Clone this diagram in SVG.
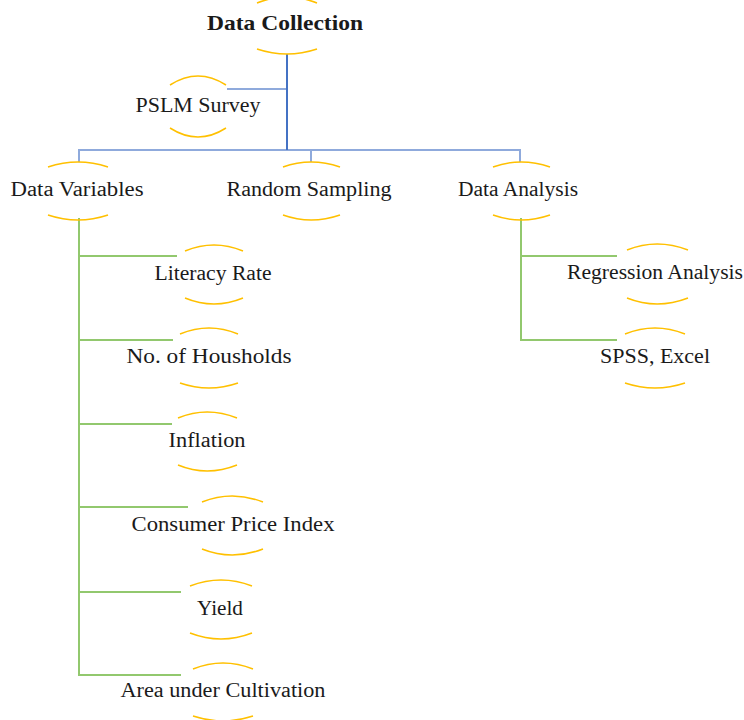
<svg xmlns="http://www.w3.org/2000/svg" width="744" height="720" viewBox="0 0 744 720">
<style>
.t{font-family:"Liberation Serif","Times New Roman",serif;font-size:20px;fill:#1a1a1a;text-anchor:middle}
.b{font-weight:bold;font-size:21px}
.arc{fill:none;stroke:#FFC000;stroke-width:1.5}
.cb{fill:none;stroke:#4472C4;stroke-width:2}
.cl{fill:none;stroke:#8FAADC;stroke-width:2}
.cg{fill:none;stroke:#92C86E;stroke-width:2}
</style>
<rect width="744" height="720" fill="#fff"/>
<g id="connectors">
<path class="cl" d="M79 162V150H520V162M311 150V162"/>
<path class="cl" d="M227 89H287"/>
<path class="cb" d="M287 54V150"/>
<path class="cg" d="M79 218V675H181M79 256H177M79 340H173M79 424H172M79 507H188M79 592H181"/>
<path class="cg" d="M521 218V340H617M521 256H617"/>
</g>
<g id="data-collection">
<path class="arc" d="M257 3Q287 -9 317 3"/>
<path class="arc" d="M257 49Q287 59 317 49"/>
<text class="t b" x="285" y="30" textLength="156" lengthAdjust="spacingAndGlyphs">Data Collection</text>
</g>
<g id="pslm-survey">
<path class="arc" d="M170 85Q198 67 226 85"/>
<path class="arc" d="M170 128Q198 146 226 128"/>
<text class="t" x="198" y="112" textLength="125" lengthAdjust="spacingAndGlyphs">PSLM Survey</text>
</g>
<g id="data-variables">
<path class="arc" d="M48 167Q78 157 108 167"/>
<path class="arc" d="M48 215Q78 225 108 215"/>
<text class="t" x="77" y="196" textLength="133" lengthAdjust="spacingAndGlyphs">Data Variables</text>
</g>
<g id="random-sampling">
<path class="arc" d="M283 167Q311 157 340 167"/>
<path class="arc" d="M283 215Q311 225 340 215"/>
<text class="t" x="309" y="196" textLength="165" lengthAdjust="spacingAndGlyphs">Random Sampling</text>
</g>
<g id="data-analysis">
<path class="arc" d="M493 167Q521 157 550 167"/>
<path class="arc" d="M493 215Q521 225 550 215"/>
<text class="t" x="518" y="196" textLength="120" lengthAdjust="spacingAndGlyphs">Data Analysis</text>
</g>
<g id="literacy-rate">
<path class="arc" d="M185 251Q214 239 243 251"/>
<path class="arc" d="M185 298Q214 310 243 298"/>
<text class="t" x="213" y="280" textLength="117" lengthAdjust="spacingAndGlyphs">Literacy Rate</text>
</g>
<g id="no-of-households">
<path class="arc" d="M180 334Q209 322 238 334"/>
<path class="arc" d="M180 383Q209 393 238 383"/>
<text class="t" x="209" y="363" textLength="165" lengthAdjust="spacingAndGlyphs">No. of Housholds</text>
</g>
<g id="inflation">
<path class="arc" d="M178 418Q207 406 237 418"/>
<path class="arc" d="M178 465Q207 477 237 465"/>
<text class="t" x="207" y="447" textLength="77" lengthAdjust="spacingAndGlyphs">Inflation</text>
</g>
<g id="consumer-price-index">
<path class="arc" d="M202 502Q232 490 263 502"/>
<path class="arc" d="M202 549Q232 561 263 549"/>
<text class="t" x="233" y="531" textLength="203" lengthAdjust="spacingAndGlyphs">Consumer Price Index</text>
</g>
<g id="yield">
<path class="arc" d="M190 586Q221 574 252 586"/>
<path class="arc" d="M190 633Q221 645 252 633"/>
<text class="t" x="220" y="615" textLength="46" lengthAdjust="spacingAndGlyphs">Yield</text>
</g>
<g id="area-under-cultivation">
<path class="arc" d="M193 669Q223 657 253 669"/>
<path class="arc" d="M193 716Q223 726 253 716"/>
<text class="t" x="223" y="697" textLength="205" lengthAdjust="spacingAndGlyphs">Area under Cultivation</text>
</g>
<g id="regression-analysis">
<path class="arc" d="M627 250Q657 238 688 250"/>
<path class="arc" d="M627 298Q657 310 688 298"/>
<text class="t" x="655" y="279" textLength="176" lengthAdjust="spacingAndGlyphs">Regression Analysis</text>
</g>
<g id="spss-excel">
<path class="arc" d="M625 334Q655 322 685 334"/>
<path class="arc" d="M625 383Q655 393 685 383"/>
<text class="t" x="655" y="363" textLength="110" lengthAdjust="spacingAndGlyphs">SPSS, Excel</text>
</g>
</svg>
